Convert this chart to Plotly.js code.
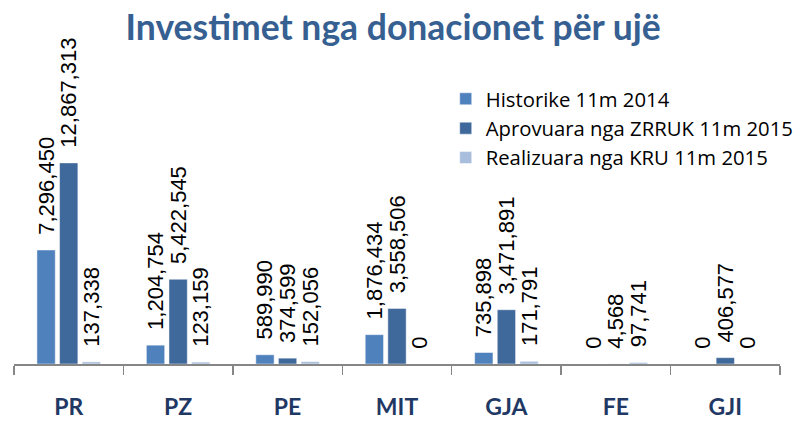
<!DOCTYPE html>
<html>
<head>
<meta charset="utf-8">
<script src="https://cdn.plot.ly/plotly-3.0.1.min.js"></script>
<style>html,body{margin:0;padding:0;background:#fff;}#chart{width:806px;height:423px;}</style>
</head>
<body>
<div id="chart"></div>
<script>
const categories = ["PR", "PZ", "PE", "MIT", "GJA", "FE", "GJI"];
const seriesNames = ["Historike 11m 2014", "Aprovuara nga ZRRUK 11m 2015", "Realizuara nga KRU 11m 2015"];
const historike = [7296450, 1204754, 589990, 1876434, 735898, 0, 0];
const aprovuara = [12867313, 5422545, 374599, 3558506, 3471891, 4568, 406577];
const realizuara = [137338, 123159, 152056, 0, 171791, 97741, 0];
const colors = ["#4F81BD", "#3F689B", "#A9BEDC"];

const values = [historike, aprovuara, realizuara];
const traces = values.map((v, i) => ({
  type: "bar",
  name: seriesNames[i],
  x: categories,
  y: v,
  marker: {color: colors[i], line: {color: "rgba(255,255,255,0.6)", width: 0.8}},
  texttemplate: "\u00A0\u00A0%{y:,}",
  textposition: "outside",
  textangle: -90,
  constraintext: "none",
  cliponaxis: false,
  textfont: {family: "Liberation Sans, Arial, sans-serif", size: 22, color: "#000"},
  hoverinfo: "none"
}));

const layout = {
  width: 806,
  height: 423,
  paper_bgcolor: "#fff",
  plot_bgcolor: "#fff",
  margin: {l: 14, r: 26, t: 40, b: 59, pad: 0, autoexpand: false},
  barmode: "group",
  bargap: 0.38,
  bargroupgap: 0.19,
  title: {
    text: "Investimet nga donacionet për ujë",
    font: {family: "Lato, sans-serif", size: 35.5, color: "#376092", weight: "bold"},
    x: 0.495, xanchor: "center", xref: "paper",
    y: 0.935, yanchor: "middle", yref: "container"
  },
  xaxis: {
    showline: true, linecolor: "#868686", linewidth: 1.5,
    ticks: "outside", ticklen: 9, tickcolor: "#868686", tickwidth: 1.5,
    tickson: "boundaries",
    showgrid: false, zeroline: false,
    ticklabelstandoff: 22,
    tickfont: {family: "Lato, sans-serif", size: 23, color: "#1F3864", weight: "bold"}
  },
  yaxis: {visible: false, range: [0, 20730000], showgrid: false, zeroline: false},
  legend: {
    xref: "container", yref: "container",
    x: 0.553, xanchor: "left", y: 0.813, yanchor: "top",
    font: {family: "Open Sans, sans-serif", size: 20.3, color: "#000"},
    bgcolor: "rgba(0,0,0,0)", borderwidth: 0
  },
  showlegend: true
};

Plotly.newPlot("chart", traces, layout, {staticPlot: true, displayModeBar: false});
</script>
</body>
</html>
